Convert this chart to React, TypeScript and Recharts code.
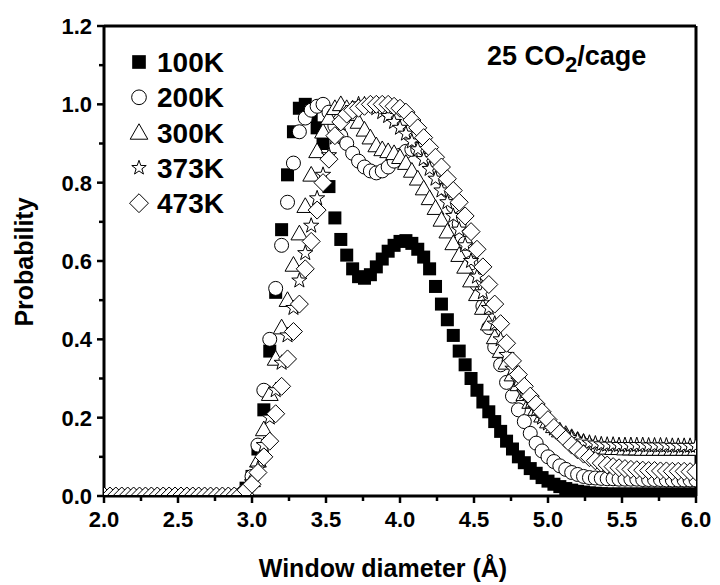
import { ScatterChart, Scatter, XAxis, YAxis, ReferenceLine } from 'recharts'

// window diameter grid (Å)
const diameter = [
  2.0, 2.04, 2.08, 2.12, 2.16, 2.2, 2.24, 2.28, 2.32, 2.36,
  2.4, 2.44, 2.48, 2.52, 2.56, 2.6, 2.64, 2.68, 2.72, 2.76,
  2.8, 2.84, 2.88, 2.92, 2.96, 3.0, 3.04, 3.08, 3.12, 3.16,
  3.2, 3.24, 3.28, 3.32, 3.36, 3.4, 3.44, 3.48, 3.52, 3.56,
  3.6, 3.64, 3.68, 3.72, 3.76, 3.8, 3.84, 3.88, 3.92, 3.96,
  4.0, 4.04, 4.08, 4.12, 4.16, 4.2, 4.24, 4.28, 4.32, 4.36,
  4.4, 4.44, 4.48, 4.52, 4.56, 4.6, 4.64, 4.68, 4.72, 4.76,
  4.8, 4.84, 4.88, 4.92, 4.96, 5.0, 5.04, 5.08, 5.12, 5.16,
  5.2, 5.24, 5.28, 5.32, 5.36, 5.4, 5.44, 5.48, 5.52, 5.56,
  5.6, 5.64, 5.68, 5.72, 5.76, 5.8, 5.84, 5.88, 5.92, 5.96,
  6.0,
]

const prob100K = [
  0, 0, 0, 0, 0, 0, 0, 0, 0, 0,
  0, 0, 0, 0, 0, 0, 0, 0, 0, 0,
  0, 0, 0, 0.002, 0.02, 0.05, 0.12, 0.22, 0.37, 0.52,
  0.68, 0.82, 0.93, 0.99, 1.0, 0.97, 0.94, 0.9, 0.79, 0.71,
  0.655, 0.615, 0.58, 0.56, 0.556, 0.565, 0.585, 0.605, 0.625, 0.64,
  0.65, 0.652, 0.645, 0.63, 0.61, 0.58, 0.535, 0.49, 0.45, 0.41,
  0.37, 0.335, 0.3, 0.27, 0.24, 0.215, 0.19, 0.165, 0.14, 0.12,
  0.1, 0.085, 0.07, 0.058, 0.047, 0.038, 0.03, 0.024, 0.019, 0.015,
  0.012, 0.01, 0.008, 0.007, 0.006, 0.005, 0.005, 0.005, 0.005, 0.005,
  0.005, 0.005, 0.005, 0.005, 0.005, 0.005, 0.005, 0.005, 0.005, 0.005,
  0.005,
]

const prob200K = [
  0, 0, 0, 0, 0, 0, 0, 0, 0, 0,
  0, 0, 0, 0, 0, 0, 0, 0, 0, 0,
  0, 0, 0, 0.002, 0.015, 0.05, 0.13, 0.27, 0.4, 0.53,
  0.64, 0.75, 0.85, 0.93, 0.965, 0.985, 0.995, 1.0, 0.98, 0.945,
  0.92, 0.9, 0.875, 0.855, 0.84, 0.83, 0.825, 0.83, 0.84, 0.855,
  0.87, 0.88, 0.885, 0.885, 0.875, 0.86, 0.84, 0.815, 0.78, 0.74,
  0.695, 0.645, 0.595, 0.54, 0.485, 0.43, 0.38, 0.335, 0.29, 0.255,
  0.22, 0.19, 0.16, 0.135, 0.115, 0.1, 0.088, 0.077, 0.068, 0.06,
  0.055, 0.05, 0.047, 0.046, 0.045, 0.044, 0.044, 0.043, 0.043, 0.043,
  0.043, 0.042, 0.042, 0.042, 0.042, 0.041, 0.041, 0.041, 0.041, 0.041,
  0.041,
]

const prob300K = [
  0, 0, 0, 0, 0, 0, 0, 0, 0, 0,
  0, 0, 0, 0, 0, 0, 0, 0, 0, 0,
  0, 0, 0, 0.002, 0.015, 0.04, 0.09, 0.17, 0.26, 0.35,
  0.43, 0.5, 0.59, 0.67, 0.74, 0.82, 0.88, 0.93, 0.965, 0.99,
  1.0, 0.99, 0.975, 0.955, 0.935, 0.915, 0.895, 0.885, 0.88, 0.875,
  0.865, 0.85, 0.83, 0.81, 0.785, 0.76, 0.735, 0.705, 0.675, 0.645,
  0.615, 0.585, 0.55, 0.515, 0.48, 0.44, 0.405, 0.37, 0.34, 0.31,
  0.285, 0.26, 0.24, 0.222, 0.205, 0.19, 0.178, 0.167, 0.158, 0.15,
  0.143, 0.137, 0.132, 0.128, 0.125, 0.123, 0.122, 0.122, 0.121, 0.121,
  0.121, 0.12, 0.12, 0.12, 0.12, 0.12, 0.12, 0.12, 0.12, 0.12,
  0.12,
]

const prob373K = [
  0, 0, 0, 0, 0, 0, 0, 0, 0, 0,
  0, 0, 0, 0, 0, 0, 0, 0, 0, 0,
  0, 0, 0, 0.002, 0.015, 0.035, 0.07, 0.13, 0.2, 0.27,
  0.34, 0.41, 0.48, 0.55, 0.62, 0.69, 0.76, 0.82, 0.87, 0.915,
  0.95, 0.975, 0.99, 1.0, 1.0, 0.995, 0.99, 0.98, 0.97, 0.955,
  0.94, 0.925, 0.905, 0.885, 0.86, 0.835, 0.81, 0.78, 0.75, 0.715,
  0.68, 0.64, 0.6, 0.56, 0.52, 0.48, 0.44, 0.4, 0.36, 0.325,
  0.295, 0.265, 0.24, 0.22, 0.2, 0.185, 0.172, 0.162, 0.154, 0.148,
  0.143, 0.139, 0.136, 0.134, 0.132, 0.131, 0.131, 0.13, 0.13, 0.13,
  0.13, 0.13, 0.129, 0.129, 0.129, 0.129, 0.128, 0.128, 0.128, 0.128,
  0.128,
]

const prob473K = [
  0, 0, 0, 0, 0, 0, 0, 0, 0, 0,
  0, 0, 0, 0, 0, 0, 0, 0, 0, 0,
  0, 0, 0, 0.002, 0.015, 0.03, 0.06, 0.1, 0.14, 0.21,
  0.28, 0.35, 0.42, 0.49, 0.58, 0.65, 0.73, 0.8, 0.86, 0.92,
  0.955, 0.975, 0.985, 0.99, 0.995, 1.0, 1.0, 1.0, 1.0, 0.995,
  0.99, 0.98, 0.96, 0.94, 0.915, 0.89, 0.865, 0.84, 0.81, 0.78,
  0.75, 0.715, 0.675, 0.63, 0.585, 0.54, 0.49, 0.44, 0.39, 0.345,
  0.31, 0.28, 0.255, 0.235, 0.215, 0.195, 0.175, 0.16, 0.145, 0.13,
  0.118, 0.107, 0.098, 0.09, 0.084, 0.079, 0.075, 0.072, 0.07, 0.068,
  0.067, 0.066, 0.065, 0.065, 0.064, 0.064, 0.063, 0.063, 0.063, 0.062,
  0.062,
]

const seriesNames = ['100K', '200K', '300K', '373K', '473K']
const seriesValues = [prob100K, prob200K, prob300K, prob373K, prob473K]
const markerKinds = ['square', 'circle', 'triangle', 'star', 'diamond']

const xTicks = [2, 2.25, 2.5, 2.75, 3, 3.25, 3.5, 3.75, 4, 4.25, 4.5, 4.75, 5, 5.25, 5.5, 5.75, 6]
const yTicks = [0, 0.1, 0.2, 0.3, 0.4, 0.5, 0.6, 0.7, 0.8, 0.9, 1.0, 1.1, 1.2]

const FONT = '"Liberation Sans", Arial, sans-serif'

function Marker({ kind, cx, cy, s = 1 }: { kind: string; cx: number; cy: number; s?: number }) {
  const stroke = { fill: '#fff', stroke: '#000', strokeWidth: 1 }
  if (kind === 'square') {
    const h = 6.5 * s
    return <rect x={cx - h} y={cy - h} width={2 * h} height={2 * h} fill="#000" />
  }
  if (kind === 'circle') return <circle cx={cx} cy={cy} r={7 * s} {...stroke} />
  if (kind === 'triangle') {
    const h = 8.4 * s
    return <polygon points={`${cx},${cy - h} ${cx - h},${cy + h * 0.75} ${cx + h},${cy + h * 0.75}`} {...stroke} />
  }
  if (kind === 'diamond') {
    const h = 9 * s
    return <polygon points={`${cx},${cy - h} ${cx + h},${cy} ${cx},${cy + h} ${cx - h},${cy}`} {...stroke} />
  }
  // star
  const R = 8 * s
  const r = R * 0.4
  const pts: string[] = []
  for (let k = 0; k < 10; k++) {
    const a = -Math.PI / 2 + (k * Math.PI) / 5
    const rad = k % 2 === 0 ? R : r
    pts.push(`${cx + rad * Math.cos(a)},${cy + rad * Math.sin(a)}`)
  }
  return <polygon points={pts.join(' ')} {...stroke} />
}

const XTick = (props: any) => {
  const { x, y, payload } = props
  const v = payload.value as number
  const major = Math.abs(v * 2 - Math.round(v * 2)) < 1e-6
  return (
    <g>
      <line x1={x} x2={x} y1={y} y2={y + (major ? 7 : 5)} stroke="#000" strokeWidth={2.5} />
      {major && (
        <text x={x} y={y + 31} textAnchor="middle" fontFamily={FONT} fontWeight="bold" fontSize={22} fill="#000">
          {v.toFixed(1)}
        </text>
      )}
    </g>
  )
}

const YTick = (props: any) => {
  const { x, y, payload } = props
  const v = payload.value as number
  const major = Math.abs(v * 5 - Math.round(v * 5)) < 1e-6
  return (
    <g>
      <line x1={x} x2={x - (major ? 7 : 5)} y1={y} y2={y} stroke="#000" strokeWidth={2.5} />
      {major && (
        <text x={x - 12} y={y + 8} textAnchor="end" fontFamily={FONT} fontWeight="bold" fontSize={22} fill="#000">
          {v.toFixed(1)}
        </text>
      )}
    </g>
  )
}

export default function App() {
  const series = seriesValues.map((vals) => diameter.map((x, i) => ({ x, y: vals[i] })))

  return (
    <div style={{ position: 'absolute', left: 0, top: 0, width: 720, height: 585, background: '#fff' }}>
      {/* clip markers to the frame like the original plot */}
      <svg width={0} height={0} style={{ position: 'absolute' }}>
        <defs>
          <clipPath id="frameClip">
            <rect x={104} y={26} width={592} height={469} />
          </clipPath>
        </defs>
      </svg>
      <ScatterChart width={720} height={585} margin={{ top: 26, right: 24, bottom: 0, left: 0 }}>
        <XAxis
          type="number"
          dataKey="x"
          domain={[2, 6]}
          ticks={xTicks}
          interval={0}
          height={89}
          tickSize={0}
          tickMargin={0}
          tick={<XTick />}
          axisLine={{ stroke: '#000', strokeWidth: 3 }}
          tickLine={false}
        />
        <YAxis
          type="number"
          dataKey="y"
          domain={[0, 1.2]}
          ticks={yTicks}
          interval={0}
          width={104}
          tickSize={0}
          tickMargin={0}
          tick={<YTick />}
          axisLine={{ stroke: '#000', strokeWidth: 3 }}
          tickLine={false}
        />
        <ReferenceLine y={1.2} stroke="#000" strokeWidth={3} />
        <ReferenceLine x={6} stroke="#000" strokeWidth={3} />
        {series.map((data, i) => (
          <Scatter
            key={seriesNames[i]}
            name={seriesNames[i]}
            data={data}
            isAnimationActive={false}
            shape={(p: any) => (
              <g clipPath="url(#frameClip)">
                <Marker kind={markerKinds[i]} cx={p.cx} cy={p.cy} />
              </g>
            )}
          />
        ))}
      </ScatterChart>
      <svg width={720} height={585} style={{ position: 'absolute', left: 0, top: 0, pointerEvents: 'none' }}>
        {seriesNames.map((name, i) => {
          const cy = 62 + i * 35.3
          return (
            <g key={name}>
              <Marker kind={markerKinds[i]} cx={139} cy={cy} s={markerKinds[i] === 'star' ? 0.95 : 1.05} />
              <text x={157} y={cy + 10} fontFamily={FONT} fontWeight="bold" fontSize={28} fill="#000">
                {name}
              </text>
            </g>
          )
        })}
        <text x={487} y={65} fontFamily={FONT} fontWeight="bold" fontSize={27} fill="#000">
          25 CO
          <tspan fontSize={22} dy={7}>2</tspan>
          <tspan dy={-7}>/cage</tspan>
        </text>
        <text
          x={383}
          y={577}
          textAnchor="middle"
          fontFamily={FONT}
          fontWeight="bold"
          fontSize={25}
          fill="#000"
        >
          Window diameter (Å)
        </text>
        <text
          x={33}
          y={262}
          transform="rotate(-90 33 262)"
          textAnchor="middle"
          fontFamily={FONT}
          fontWeight="bold"
          fontSize={25}
          fill="#000"
        >
          Probability
        </text>
      </svg>
    </div>
  )
}
